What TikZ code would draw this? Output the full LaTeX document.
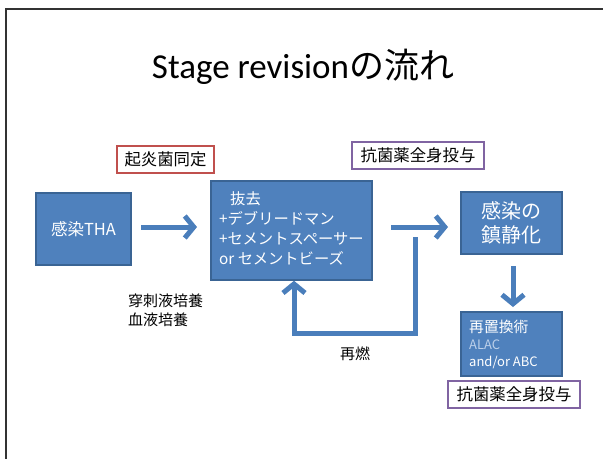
\documentclass[tikz,border=0pt]{standalone}
\usepackage{fontspec}
\setmainfont{Noto Sans CJK JP}
\newfontfamily\titlelat{Carlito}
\usetikzlibrary{arrows.meta,calc}
\definecolor{boxblue}{HTML}{4F81BD}
\definecolor{boxedge}{HTML}{3A6494}
\definecolor{arrblue}{HTML}{4A7EBB}
\definecolor{redb}{HTML}{C0504D}
\definecolor{purb}{HTML}{8064A2}
\definecolor{alac}{HTML}{BCD0EA}
\tikzset{
  bluebox/.style={draw=boxedge, line width=1.5pt, fill=boxblue, text=white, inner sep=0pt},
  tagbox/.style={draw=#1, line width=1.5pt, fill=white, inner sep=0pt, font=\fontsize{16.4}{19}\selectfont},
  thickarr/.style={draw=arrblue, line width=5pt, -{Straight Barb[length=9pt,width=22pt]}},
  plainline/.style={draw=arrblue, line width=5pt},
  lbl/.style={inner sep=0pt, font=\fontsize{15}{19}\selectfont, align=left}
}
\begin{document}
\begin{tikzpicture}[x=1pt,y=-1pt]
\useasboundingbox (0,0) rectangle (603,459);
\fill[white] (0,0) rectangle (603,459);
\draw[line width=1.2pt, black!80] (603,9) -- (6,9) -- (6,459);

\node[inner sep=0pt] (title) at (303,67) {\fontsize{35}{40}\selectfont\titlelat Stage revision\normalfont の流れ};

\node[tagbox=redb, minimum width=97pt, minimum height=27pt] (kiei) at (165.5,159.5) {起炎菌同定};
\node[tagbox=purb, minimum width=132pt, minimum height=27pt] (kokin1) at (418,155.5) {抗菌薬全身投与};
\node[tagbox=purb, minimum width=132pt, minimum height=27pt] (kokin2) at (514,394.5) {抗菌薬全身投与};

\node[bluebox, minimum width=95pt, minimum height=72pt, font=\fontsize{16.5}{19}\selectfont] (tha) at (83.5,229) {感染THA};

\node[bluebox, minimum width=161pt, minimum height=99pt] (mid) at (291.5,230.5) {};
\node[lbl, anchor=north west, text=white, font=\fontsize{15.3}{20}\selectfont] (midtxt) at (219,191)
  {\hspace{11pt}抜去\\+デブリードマン\\+セメントスペーサー\\or セメントビーズ};

\node[bluebox, minimum width=101pt, minimum height=62pt, align=center, font=\fontsize{20}{24}\selectfont] (chin) at (511.5,223) {感染の\\鎮静化};

\node[bluebox, minimum width=101pt, minimum height=64pt] (sai) at (511.5,344) {};
\node[lbl, anchor=north west, text=white, font=\fontsize{13}{17}\selectfont] (saitxt) at (469,320)
  {\fontsize{14.8}{17}\selectfont 再置換術\\{\color{alac}\fontseries{l}\selectfont ALAC}\\and/or ABC};

\node[lbl, anchor=north west] (baiyo) at (128,294) {穿刺液培養\\血液培養};
\node[lbl] (sainen) at (355,354) {再燃};

\coordinate (a1s) at (141,227);
\coordinate (a1e) at (197,227);
\draw[thickarr] (a1s) -- (a1e);
\coordinate (a2s) at (391,227);
\coordinate (a2e) at (448,227);
\draw[thickarr] (a2s) -- (a2e);
\coordinate (a3s) at (513,266);
\coordinate (a3e) at (513,307);
\draw[thickarr] (a3s) -- (a3e);

\coordinate (ls) at (415,237);
\coordinate (lc) at (294,333);
\draw[plainline] (ls) |- (lc);
\draw[thickarr] ($(lc)+(0,2.5)$) -- (lc |- mid.south);
\end{tikzpicture}
\end{document}
